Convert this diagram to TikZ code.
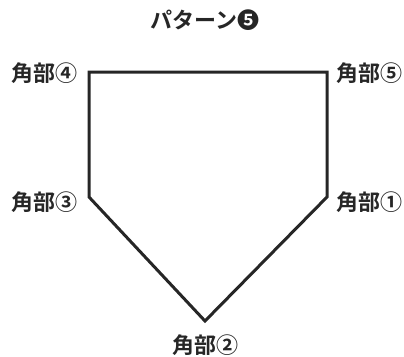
\documentclass[tikz,border=0pt]{standalone}
\usepackage{fontspec}
\newfontfamily\jp{Noto Sans CJK JP}[BoldFont={* Bold}]
\begin{document}
\begin{tikzpicture}[x=1pt,y=-1pt,
  lbl/.style={font=\jp\bfseries\fontsize{22}{24}\selectfont, text=black!85, inner sep=0pt},
  edge/.style={line width=3pt, draw=black!85, line join=miter}]
\useasboundingbox (0,0) rectangle (404,356);
\coordinate (c4) at (89,72);
\coordinate (c5) at (327,72);
\coordinate (c1) at (327,197);
\coordinate (c2) at (205,321);
\coordinate (c3) at (89,197);
\draw[edge] (c4) -- (c5) -- (c1) -- (c2) -- (c3) -- cycle;
\node[lbl] (title) at (205,20) {パターン❺};
\node[lbl] (l4) at (45,73) {角部④};
\node[lbl] (l5) at (369,73) {角部⑤};
\node[lbl] (l3) at (45,202) {角部③};
\node[lbl] (l1) at (369,202) {角部①};
\node[lbl] (l2) at (205,345) {角部②};
\end{tikzpicture}
\end{document}
